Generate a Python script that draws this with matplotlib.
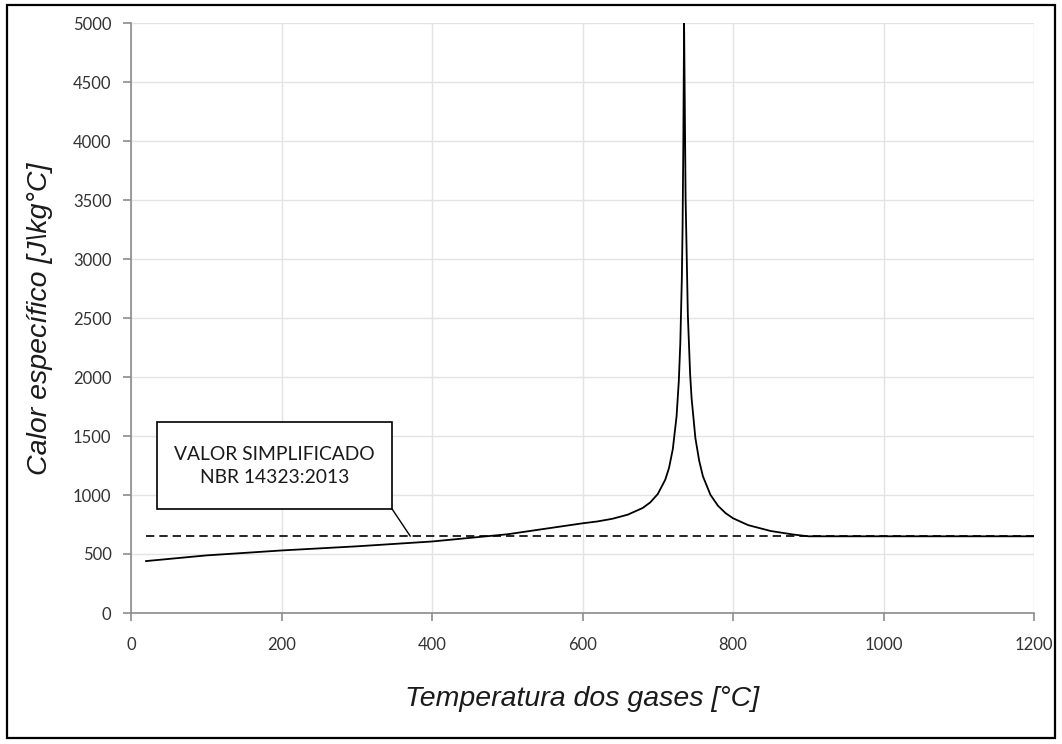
import matplotlib
matplotlib.use("Agg")
import matplotlib.pyplot as plt
from matplotlib.patches import Rectangle

# Data
temp = [20, 100, 200, 300, 400, 500, 600, 620, 640, 660, 680, 690, 700, 710,
        715, 720, 725, 728, 730, 732, 733, 734, 735, 737, 740, 743, 745, 750,
        755, 760, 770, 780, 790, 800, 820, 850, 880, 900, 1000, 1100, 1200]
cp = [440, 488, 530, 565, 606, 667, 760, 776, 799, 833, 890, 937, 1008, 1130,
      1230, 1388, 1666, 1967, 2291, 2834, 3267, 4000, 5000, 3515, 2525, 2027,
      1818, 1483, 1292, 1159, 1002, 909, 847, 803, 745, 695, 665, 650, 650,
      650, 650]
simp_temp = [20, 1200]
simp_cp = [650, 650]
xticks = [0, 200, 400, 600, 800, 1000, 1200]
yticks = [0, 500, 1000, 1500, 2000, 2500, 3000, 3500, 4000, 4500, 5000]
box_text = "VALOR SIMPLIFICADO\nNBR 14323:2013"

W, H = 1062, 744
fig = plt.figure(figsize=(W / 100, H / 100), dpi=100)
fig.patch.set_facecolor("white")

# outer frame
fig.patches.append(Rectangle((7 / W, 1 - 738 / H), (1055 - 7) / W, (738 - 5) / H,
                             transform=fig.transFigure, fill=False,
                             edgecolor="black", linewidth=1.6, zorder=0))

ax = fig.add_axes([131 / W, 1 - 613 / H, (1034 - 131) / W, (613 - 23) / H])
ax.set_xlim(0, 1200)
ax.set_ylim(0, 5000)
ax.set_xticks(xticks)
ax.set_yticks(yticks)
ax.grid(True, color="#e3e3e3", linewidth=1.0)
ax.set_axisbelow(True)
for s in ["top", "right"]:
    ax.spines[s].set_visible(False)
for s in ["left", "bottom"]:
    ax.spines[s].set_color("#8c8c8c")
    ax.spines[s].set_linewidth(1.2)
ax.tick_params(axis="both", colors="#8c8c8c", length=6, width=1.2,
               labelcolor="#333333", labelsize=12)
ax.tick_params(axis="x", pad=11)
ax.tick_params(axis="y", pad=8)
for lab in ax.get_xticklabels() + ax.get_yticklabels():
    lab.set_fontfamily("Lato")

ax.plot(simp_temp, simp_cp, color="black", linestyle=(0, (5, 3)), linewidth=1.2, zorder=2)
ax.plot(temp, cp, color="black", linewidth=1.3, zorder=3)

# annotation box
ax.add_patch(Rectangle((34.5, 881), 347 - 34.5, 1619 - 881, facecolor="white",
                       edgecolor="black", linewidth=1.2, zorder=4))
ax.text((34.5 + 347) / 2, 1245, box_text, ha="center", va="center",
        fontsize=13.9, family="Lato", color="#1a1a1a", linespacing=1.4, zorder=5)
ax.plot([347, 371], [881, 652], color="black", linewidth=1.0, zorder=4)

fig.text(582 / W, 1 - 699 / H, "Temperatura dos gases [°C]", ha="center", va="center",
         fontsize=20.5, style="italic", family="Liberation Sans", color="#1a1a1a")
fig.text(40 / W, 1 - 319 / H, "Calor específico [J\\kg°C]", ha="center", va="center",
         rotation=90, fontsize=20.5, style="italic", family="Liberation Sans", color="#1a1a1a")

fig.savefig("out.png", dpi=100, facecolor="white")
